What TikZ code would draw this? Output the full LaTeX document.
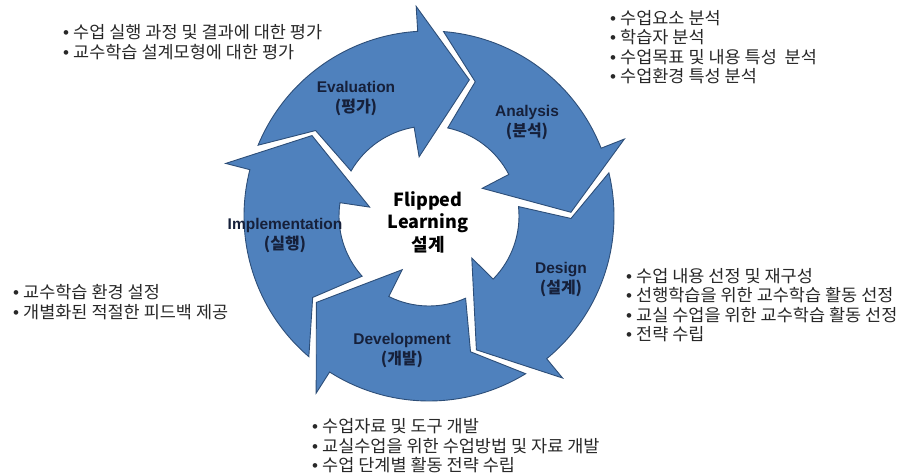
\documentclass[tikz,border=0pt]{standalone}
\usepackage{fontspec}
\setmainfont{Liberation Sans}
\newfontfamily\kr{Noto Sans CJK KR}
\newfontfamily\krwide{Noto Sans CJK KR}[FakeStretch=1.03]
\usetikzlibrary{positioning}

\definecolor{cycleblue}{RGB}{79, 129, 189}
\definecolor{cycleedge}{RGB}{45, 78, 120}
\definecolor{labelnavy}{RGB}{22, 32, 58}
\definecolor{listgray}{RGB}{40, 40, 40}

\newcommand{\bul}{{\rmfamily\textbullet}\hspace{4pt}}
\newcommand{\krsub}[1]{{\kr\fontsize{16}{20}\selectfont(#1)}}

\tikzset{
  stagearrow/.style={fill=cycleblue, draw=cycleedge, line width=0.9pt, line join=miter},
  stagelabel/.style={font=\bfseries\fontsize{15.5}{20}\selectfont, text=labelnavy, align=center, inner sep=0pt},
  bulletlist/.style={font=\krwide\fontsize{17}{19.5}\selectfont, text=listgray, align=left, anchor=west, inner sep=0pt},
}

\begin{document}
\begin{tikzpicture}[x=1pt, y=1pt]
  \useasboundingbox (0,0) rectangle (903,474);

  % five block arrows round the centre, tips going clockwise
  \begin{scope}[shift={(429,258)}]
    \foreach \t in {73.5, 1.5, -70.5, -142.5, -214.5} {
      \draw[stagearrow] (\t+84:185) arc[start angle=\t+84, end angle=\t+20, radius=185]
        -- (\t+20:210) -- (\t:142) -- (\t+26:60) -- (\t+26:90)
        arc[start angle=\t+26, end angle=\t+76.5, radius=90]
        -- (\t+69.5:142) -- cycle;
    }
  \end{scope}

  % centre
  \node[font=\kr\bfseries\fontsize{18}{22.5}\selectfont, align=center, inner sep=0pt] (core) at (428,252) {Flipped\\Learning\\설계};

  % stage names
  \node[stagelabel] (eval) at (356,375) {Evaluation\\\krsub{평가}};
  \node[stagelabel] (anal) at (527,351) {Analysis\\\krsub{분석}};
  \node[stagelabel] (desg) at (561,194) {Design\\\krsub{설계}};
  \node[stagelabel] (devl) at (402,123) {Development\\\krsub{개발}};
  \node[stagelabel] (impl) at (285,238) {Implementation\\\krsub{실행}};

  % what each stage covers
  \node[bulletlist] (evallist) at (63,432) {
    \bul 수업 실행 과정 및 결과에 대한 평가\\
    \bul 교수학습 설계모형에 대한 평가};
  \node[bulletlist] (anallist) at (610,427) {
    \bul 수업요소 분석\\
    \bul 학습자 분석\\
    \bul 수업목표 및 내용 특성\ \ 분석\\
    \bul 수업환경 특성 분석};
  \node[bulletlist] (desglist) at (626,169) {
    \bul 수업 내용 선정 및 재구성\\
    \bul 선행학습을 위한 교수학습 활동 선정\\
    \bul 교실 수업을 위한 교수학습 활동 선정\\
    \bul 전략 수립};
  \node[bulletlist] (impllist) at (13,172) {
    \bul 교수학습 환경 설정\\
    \bul 개별화된 적절한 피드백 제공};
  \node[bulletlist] (devllist) at (312,28) {
    \bul 수업자료 및 도구 개발\\
    \bul 교실수업을 위한 수업방법 및 자료 개발\\
    \bul 수업 단계별 활동 전략 수립};
\end{tikzpicture}
\end{document}
